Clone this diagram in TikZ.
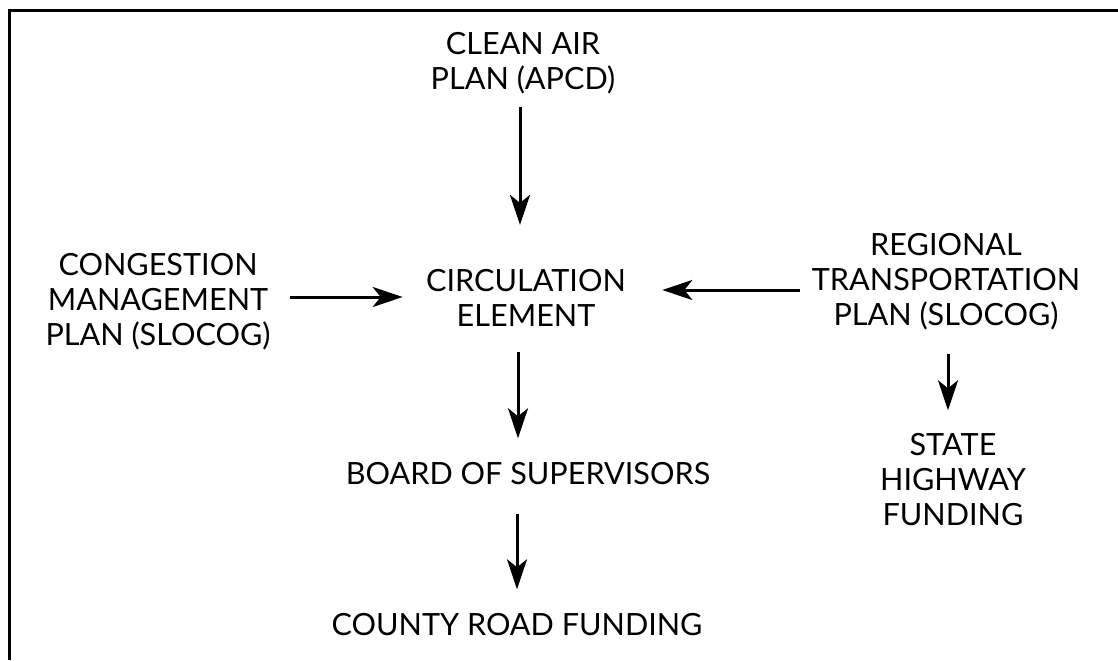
\documentclass[tikz,border=0pt]{standalone}
\usepackage{fontspec}
\setmainfont{Lato}
\usepackage{tikz}
\usetikzlibrary{arrows.meta}
\usetikzlibrary{positioning}

\newcommand{\planfont}{\fontsize{15.3pt}{17.5pt}\selectfont}

\begin{document}
\begin{tikzpicture}[x=0.5pt, y=-0.5pt,
    >={Stealth[length=15pt, width=10pt, inset=4pt]}, line width=1.5pt,
    plan/.style={align=center, inner sep=0pt, font=\planfont}]
    \useasboundingbox (0,0) rectangle (1118,660);
    % frame
    \draw (9,660) -- (9,10) -- (1118,10);
    % nodes
    \node[plan] (air)   at (523,63)  {CLEAN AIR\\PLAN (APCD)};
    \node[plan] (circ)  at (526,298) {CIRCULATION\\ELEMENT};
    \node[plan] (cmp)   at (158,302) {CONGESTION\\MANAGEMENT\\PLAN (SLOCOG)};
    \node[plan] (rtp)   at (946,282) {REGIONAL\\TRANSPORTATION\\PLAN (SLOCOG)};
    \node[plan] (board) at (528,474) {BOARD OF SUPERVISORS};
    \node[plan] (road)  at (517,625) {COUNTY ROAD FUNDING};
    \node[plan] (state) at (953,480) {STATE\\HIGHWAY\\FUNDING};
    % arrows
    \draw[->, shorten <=6pt, shorten >=21.5pt] ([xshift=-1.5pt]air.south) -- ([xshift=-1.5pt]air.south |- circ.north);
    \draw[->, shorten <=12pt, shorten >=11.5pt] ([xshift=-4pt]circ.south) -- ([xshift=-4pt]circ.south |- board.north);
    \draw[->, shorten <=13.5pt, shorten >=11.5pt] ([xshift=-5.5pt]board.south) -- ([xshift=-5.5pt]board.south |- road.north);
    \draw[->, shorten <=9pt, shorten >=11pt] ([yshift=2.5pt]cmp.east) -- ([yshift=2.5pt]cmp.east -| circ.west);
    \draw[->, shorten <=5pt, shorten >=17.5pt] ([yshift=-4pt]rtp.west) -- ([yshift=-4pt]rtp.west -| circ.east);
    \draw[->, shorten <=11pt, shorten >=11pt] ([xshift=1pt]rtp.south) -- ([xshift=1pt]rtp.south |- state.north);
\end{tikzpicture}
\end{document}
